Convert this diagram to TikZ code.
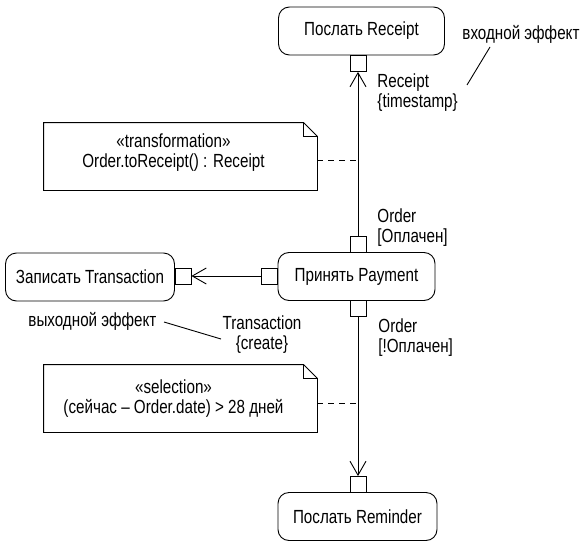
\documentclass[tikz,border=0pt]{standalone}
\usepackage{fontspec}
\setmainfont{Liberation Sans}[FakeStretch=0.8]
\usetikzlibrary{arrows.meta}
\begin{document}
\begin{tikzpicture}[x=1pt,y=-1pt, line width=0.9pt,
  font=\fontsize{19}{20}\selectfont,
  action/.style={draw, rounded corners=11pt, minimum height=48pt, inner sep=0pt},
  pinbox/.style={draw, fill=white, minimum width=16pt, minimum height=16pt, inner sep=0pt},
  flow/.style={-{Straight Barb[length=14pt,width=16pt,line width=0.9pt]}},
  lbl/.style={align=left, inner sep=0pt, anchor=north west},
  notebox/.style={minimum width=273pt, minimum height=67pt, inner sep=0pt},
  notetext/.style={align=center, inner sep=0pt},
  conn/.style={dash pattern=on 6pt off 5pt}]
\useasboundingbox (0,0) rectangle (581,541);
% actions
\node[action, minimum width=166pt] (rec) at (361.5,31) {Послать Receipt};
\node[action, minimum width=157pt] (pay) at (356.5,276.5) {Принять Payment};
\node[action, minimum width=169pt] (trn) at (90,277) {Записать Transaction};
\node[action, minimum width=159pt] (rem) at (357.5,516.5) {Послать Reminder};
% pins
\node[pinbox, anchor=north] (recpin) at (358,55) {};
\node[pinbox, anchor=south] (paytop) at (358,253) {};
\node[pinbox, anchor=north] (paybot) at (358,300) {};
\node[pinbox, anchor=east] (payleft) at (278,276) {};
\node[pinbox, anchor=west] (trnpin) at (174.5,276) {};
\node[pinbox, anchor=south] (rempin) at (358,493) {};
% flows
\draw[flow] (paytop.north) -- (recpin.south);
\draw[flow] (payleft.west) -- (trnpin.east);
\draw[flow] (paybot.south) -- (rempin.north);
% labels
\node[lbl] (l1) at (377,73) {Receipt\\\{timestamp\}};
\node[lbl] (l2) at (377,208) {Order\\{[Оплачен]}};
\node[lbl] (l3) at (378,318) {Order\\{[!Оплачен]}};
\node[align=center, inner sep=0pt, anchor=north] (l4) at (262,315) {Transaction\\\{create\}};
\node[inner sep=0pt, anchor=west] (inl) at (462,34) {входной эффект};
\node[inner sep=0pt, anchor=west] (outl) at (28,321) {выходной эффект};
\coordinate (inend) at (467,85);
\coordinate (instart) at (490,47);
\coordinate (outstart) at (164,322);
\coordinate (outend) at (221,339);
\draw (instart) -- (inend);
\draw (outstart) -- (outend);
% notes
\node[notebox] (n1) at (180.5,156.5) {};
\node[notetext] (n1t) at (173.5,153) {«transformation»\\Order.toReceipt() : Receipt};
\draw (n1.north west) -- ([xshift=-14pt]n1.north east) -- ([yshift=-14pt]n1.north east) -- (n1.south east) -- (n1.south west) -- cycle;
\draw ([xshift=-14pt]n1.north east) |- ([yshift=-14pt]n1.north east);
\node[notebox] (n2) at (180.5,398.5) {};
\node[notetext] (n2t) at (173.5,399) {«selection»\\(сейчас – Order.date) > 28 дней};
\draw (n2.north west) -- ([xshift=-14pt]n2.north east) -- ([yshift=-14pt]n2.north east) -- (n2.south east) -- (n2.south west) -- cycle;
\draw ([xshift=-14pt]n2.north east) |- ([yshift=-14pt]n2.north east);
\coordinate (d1) at (358,160);
\coordinate (d2) at (358,403);
\draw[conn] (n1.east |- d1) -- (d1);
\draw[conn] (n2.east |- d2) -- (d2);
\end{tikzpicture}
\end{document}
